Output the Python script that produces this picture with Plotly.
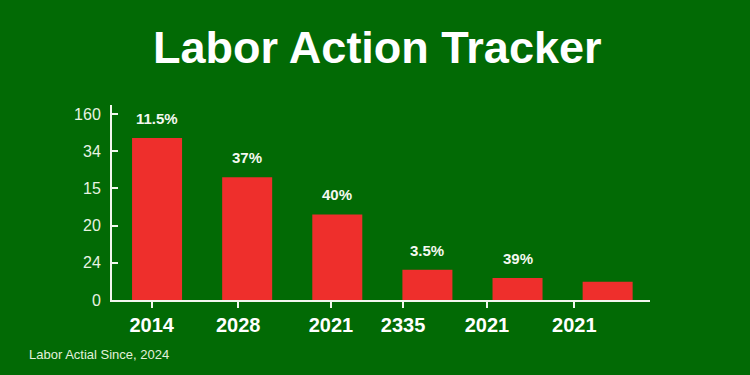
import plotly.graph_objects as go

# ---- data ----
categories = ["2014", "2028", "2021", "2335", "2021", "2021"]
values = [43.5, 33.0, 23.0, 8.1, 5.9, 4.9]
bar_labels = ["11.5%", "37%", "40%", "3.5%", "39%", ""]
y_tick_values = [0, 10, 20, 30, 40, 50]
y_tick_labels = ["0", "24", "20", "15", "34", "160"]

BG = "#026a05"
RED = "#ee2f2c"
FONT = "Liberation Sans, Arial, sans-serif"

x_idx = list(range(len(values)))
# tick label positions (the reference's ticks drift left of the bars)
x_tick_pos = [-0.06, 0.9, 1.93, 2.73, 3.66, 4.63]

fig = go.Figure()
fig.add_trace(go.Bar(
    x=x_idx, y=values, width=0.555,
    marker=dict(color=RED, line=dict(width=0)),
    hoverinfo="skip",
))

annotations = []
for xi, v, lab in zip(x_idx, values, bar_labels):
    if lab:
        annotations.append(dict(
            x=xi, y=v, xref="x", yref="y", text=f"<b>{lab}</b>",
            showarrow=False, yanchor="bottom", xanchor="center", yshift=9,
            font=dict(family=FONT, size=15, color="#f4f8f0"),
        ))
annotations.append(dict(
    x=-0.158, y=-0.282, xref="paper", yref="paper",
    text="Labor Actial Since, 2024", showarrow=False,
    xanchor="left", yanchor="middle",
    font=dict(family=FONT, size=13, color="#e3f1dc"),
))

fig.update_layout(
    width=750, height=375,
    paper_bgcolor=BG, plot_bgcolor=BG,
    margin=dict(l=112, r=100, t=105, b=75),
    showlegend=False,
    title=dict(
        text="<b>Labor Action Tracker</b>",
        xref="container", yref="container",
        x=0.503, y=0.875, xanchor="center", yanchor="middle",
        font=dict(family=FONT, size=45, color="#ffffff"),
    ),
    xaxis=dict(
        range=[-0.5, 5.47],
        tickmode="array", tickvals=x_tick_pos, ticktext=categories,
        showline=True, linecolor="#f2f7ee", linewidth=2,
        ticks="outside", ticklen=6, tickwidth=2, tickcolor="#f2f7ee",
        showgrid=False, zeroline=False,
        tickfont=dict(family=FONT, size=20, color="#ffffff", weight="bold"),
        fixedrange=True,
    ),
    yaxis=dict(
        range=[0, 52.4],
        tickmode="array", tickvals=y_tick_values, ticktext=y_tick_labels,
        showline=True, linecolor="#f2f7ee", linewidth=2,
        ticks="inside", ticklen=6, tickwidth=2, tickcolor="#f2f7ee",
        ticklabelstandoff=6,
        showgrid=False, zeroline=False,
        tickfont=dict(family=FONT, size=16, color="#e8f3e2"),
        fixedrange=True,
    ),
    annotations=annotations,
)

fig.write_html("out.html")
